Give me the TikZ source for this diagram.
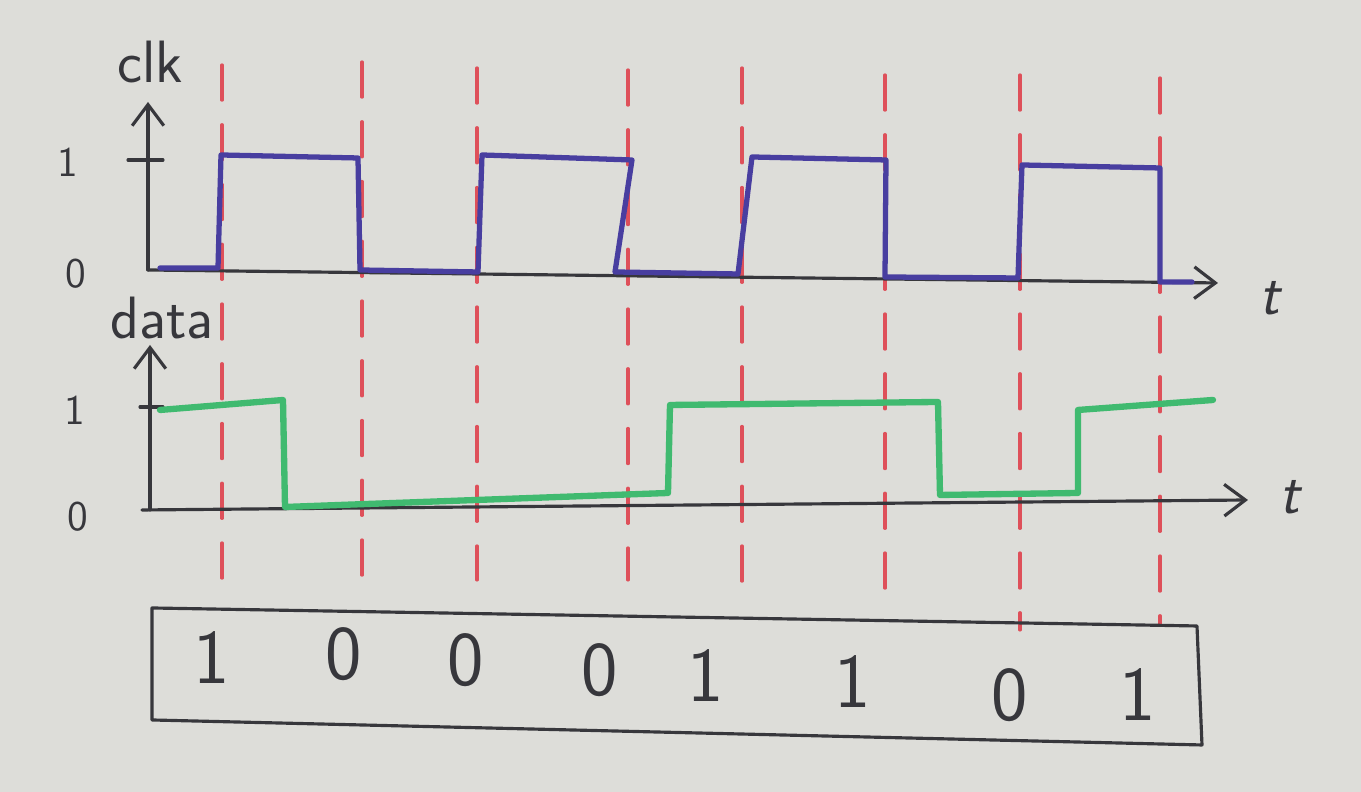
\documentclass[tikz,border=0pt]{standalone}
\usetikzlibrary{arrows.meta}
\definecolor{paper}{RGB}{221,221,217}
\definecolor{pen}{RGB}{55,55,60}
\definecolor{clkblue}{RGB}{72,62,160}
\definecolor{datagreen}{RGB}{64,186,112}
\definecolor{samplered}{RGB}{222,80,90}
\begin{document}
\begin{tikzpicture}[>={Straight Barb[length=6pt,width=9pt]}, line cap=round, line join=round,
  axis/.style={draw=pen, line width=0.9pt},
  clkline/.style={draw=clkblue, line width=1.5pt},
  dataline/.style={draw=datagreen, line width=1.8pt},
  sampleline/.style={draw=samplered, line width=0.9pt, dash pattern=on 10pt off 7pt},
  lbl/.style={text=pen, font=\sffamily\fontsize{17}{20}\selectfont},
  lvl/.style={text=pen, font=\sffamily\fontsize{12}{14}\selectfont},
  bit/.style={text=pen, font=\sffamily\fontsize{22}{26}\selectfont}]
\fill[paper] (0,0) rectangle (13.61,7.92);
\useasboundingbox (0,0) rectangle (13.61,7.92);

% sampling instants
\foreach \x/\ya/\yb in {2.22/7.27/2.12, 3.62/7.30/2.12, 4.77/7.24/2.12, 6.28/7.22/2.12,
    7.42/7.24/1.94, 8.85/7.17/1.80, 10.20/7.17/1.62, 11.60/7.14/1.67}
{
    \draw[sampleline] (\x,\ya)--(\x,\yb);
}

% clk
\draw[axis,->] (1.48,5.22)--(1.48,6.90);
\draw[axis] (1.28,6.32)--(1.63,6.32);
\draw[axis,->] (1.48,5.22)--(12.18,5.09);
\node[lbl] (clk) at (1.50,7.30) {clk};
\node[lvl] (clkone) at (0.68,6.30) {1};
\node[lvl] (clkzero) at (0.76,5.18) {0};
\node[lbl] (clkt) at (12.70,4.94) {\itshape t};
\draw[clkline] (1.60,5.24)--(2.18,5.24)--(2.21,6.37)--(3.58,6.34)--(3.60,5.22)--(4.78,5.20)
    --(4.82,6.37)--(6.32,6.32)--(6.15,5.20)--(7.38,5.18)--(7.52,6.35)--(8.86,6.32)
    --(8.85,5.15)--(10.18,5.14)--(10.22,6.27)--(11.60,6.24)--(11.60,5.10)--(11.92,5.10);

% data
\draw[axis,->] (1.50,2.82)--(1.50,4.47);
\draw[axis] (1.40,3.85)--(1.63,3.85);
\draw[axis,->] (1.42,2.82)--(12.48,2.92);
\node[lbl] (data) at (1.62,4.74) {data};
\node[lvl] (dataone) at (0.75,3.82) {1};
\node[lvl] (datazero) at (0.78,2.75) {0};
\node[lbl] (datat) at (12.90,2.95) {\itshape t};
\draw[dataline] (1.60,3.82)--(2.83,3.92)--(2.85,2.85)--(6.68,2.99)--(6.70,3.87)--(9.38,3.90)
    --(9.40,2.97)--(10.78,2.99)--(10.78,3.82)--(12.13,3.92);

% sampled bits
\draw[axis] (1.52,1.84)--(11.97,1.66)--(12.02,0.47)--(1.52,0.72)--cycle;
\foreach \x/\y/\b [count=\i] in {2.12/1.34/1, 3.44/1.38/0, 4.66/1.32/0, 6.00/1.22/0,
    7.06/1.16/1, 8.53/1.10/1, 10.10/0.97/0, 11.38/0.97/1}
{
    \node[bit] (bit\i) at (\x,\y) {\b};
}
\end{tikzpicture}
\end{document}
